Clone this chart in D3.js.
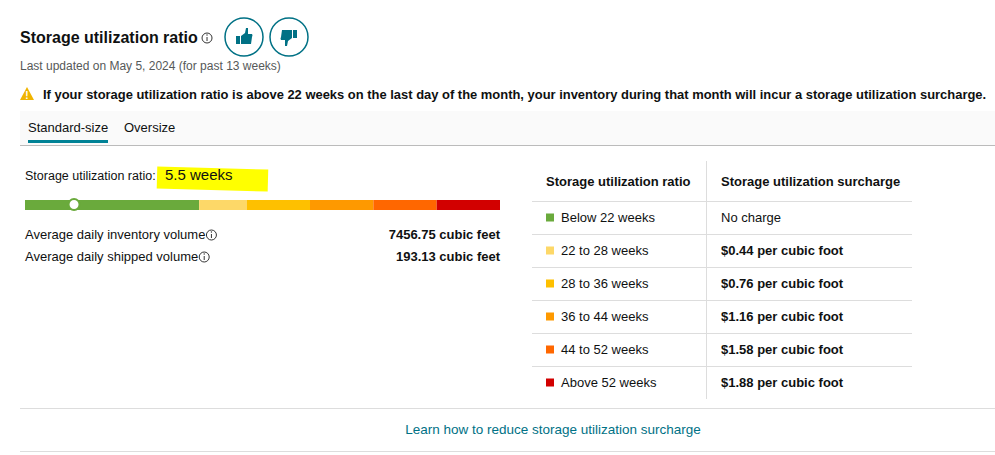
<!DOCTYPE html><html><head><meta charset="utf-8"><script src="https://cdn.jsdelivr.net/npm/d3@7"></script>
<style>body{margin:0;background:#fff}svg{font-family:"Liberation Sans",Arial,sans-serif}</style></head><body><svg id="c" width="995" height="455"></svg>
<script>
const bandLabels=["Below 22 weeks","22 to 28 weeks","28 to 36 weeks","36 to 44 weeks","44 to 52 weeks","Above 52 weeks"];
const bandStart=[0,22,28,36,44,52];
const bandEnd=[22,28,36,44,52,60];
const bandColors=["#6aaa3c","#fdd868","#fec000","#fe9900","#ff6700","#d20000"];
const surcharges=["No charge","$0.44 per cubic foot","$0.76 per cubic foot","$1.16 per cubic foot","$1.58 per cubic foot","$1.88 per cubic foot"];
const ratioValue=5.5;
const metricLabels=["Average daily inventory volume","Average daily shipped volume"];
const metricValues=["7456.75 cubic feet","193.13 cubic feet"];

const svg=d3.select("#c");
const t=(x,y,s,o={})=>svg.append("text").attr("x",x).attr("y",y).text(s).attr("font-size",o.fs||13).attr("font-weight",o.fw||"normal").attr("fill",o.c||"#0f1111").attr("text-anchor",o.a||"start");
const info=(cx,cy)=>{svg.append("circle").attr("cx",cx).attr("cy",cy).attr("r",5).attr("fill","none").attr("stroke","#333").attr("stroke-width",1);
 svg.append("line").attr("x1",cx).attr("x2",cx).attr("y1",cy-1).attr("y2",cy+3).attr("stroke","#333");svg.append("circle").attr("cx",cx).attr("cy",cy-3).attr("r",0.7).attr("fill","#333");};
const endX=n=>n.node().getBBox().x+n.node().getBBox().width;

const tt=t(20,43,"Storage utilization ratio",{fs:16,fw:"bold"});info(endX(tt)+9,38);
[244,289].forEach((cx,i)=>{svg.append("circle").attr("cx",cx).attr("cy",37).attr("r",19).attr("fill","#fff").attr("stroke","#007185").attr("stroke-width",1.5);
 const g=svg.append("g").attr("transform",`translate(${cx},37)`+(i?" rotate(180)":""));
 g.append("rect").attr("x",-8).attr("y",-1).attr("width",4).attr("height",8).attr("fill","#007185");
 g.append("path").attr("d","M-3,-1 L1,-4 L2,-9 L4,-9 L4,-3 L8,-3 Q9,-2 8,0 L7,7 L-3,7 Z").attr("fill","#007185");});
t(20,70,"Last updated on May 5, 2024 (for past 13 weeks)",{fs:12,c:"#565959"});
svg.append("path").attr("d","M27,87 L34,100 L20,100 Z").attr("fill","#f0b400");
t(27,99,"!",{fs:10,fw:"bold",a:"middle",c:"#fff"});
t(43,99,"If your storage utilization ratio is above 22 weeks on the last day of the month, your inventory during that month will incur a storage utilization surcharge.",{fs:12.95,fw:"bold"});
svg.append("rect").attr("x",20).attr("y",111).attr("width",975).attr("height",34).attr("fill","#fafafa");
svg.append("line").attr("x1",20).attr("x2",995).attr("y1",145.5).attr("y2",145.5).attr("stroke","#bbb");
t(28,132,"Standard-size",{fs:13});t(124,132,"Oversize",{fs:13});
svg.append("rect").attr("x",28).attr("y",140).attr("width",80).attr("height",3).attr("fill","#008296");

// gauge
svg.append("rect").attr("x",157).attr("y",168).attr("width",111).attr("height",22).attr("fill","#ffff00").attr("transform","rotate(1.5,210,178)");
t(25,180,"Storage utilization ratio:",{fs:12.5});t(165,180,ratioValue+" weeks",{fs:15});
const x=d3.scaleLinear().domain([0,60]).range([25,500]);
svg.selectAll(".seg").data(bandStart).join("rect").attr("x",d=>x(d)).attr("y",200).attr("height",10)
 .attr("width",(d,i)=>x(bandEnd[i])-x(d)).attr("fill",(d,i)=>bandColors[i]);
svg.append("circle").attr("cx",x(ratioValue)+5.5).attr("cy",204.5).attr("r",5.5).attr("fill","#fff").attr("stroke","#6aaa3c").attr("stroke-width",2);
metricLabels.forEach((l,i)=>{const y=239+i*22;const n=t(25,y,l);info(endX(n)+6,y-4);t(500,y,metricValues[i],{fw:"bold",a:"end"});});

// table
const rowY=d3.scaleBand().domain(bandLabels).range([201,399]);
t(546,186,"Storage utilization ratio",{fw:"bold"});t(721,186,"Storage utilization surcharge",{fw:"bold"});
svg.append("line").attr("x1",706.5).attr("x2",706.5).attr("y1",161).attr("y2",399).attr("stroke","#ddd");
bandLabels.forEach((l,i)=>{const y0=rowY(l),h=rowY.bandwidth();
 svg.append("line").attr("x1",532).attr("x2",912).attr("y1",y0+0.5).attr("y2",y0+0.5).attr("stroke","#ddd");
 svg.append("rect").attr("x",546).attr("y",y0+h/2-4).attr("width",8).attr("height",8).attr("fill",bandColors[i]);
 t(561,y0+h/2+4.5,l);t(721,y0+h/2+4.5,surcharges[i],{fw:i?"bold":"normal"});});
svg.append("line").attr("x1",20).attr("x2",995).attr("y1",408.5).attr("y2",408.5).attr("stroke","#ddd");
t(553,434,"Learn how to reduce storage utilization surcharge",{fs:13.5,a:"middle",c:"#007185"});
svg.append("line").attr("x1",20).attr("x2",995).attr("y1",451.5).attr("y2",451.5).attr("stroke","#ddd");
</script></body></html>
